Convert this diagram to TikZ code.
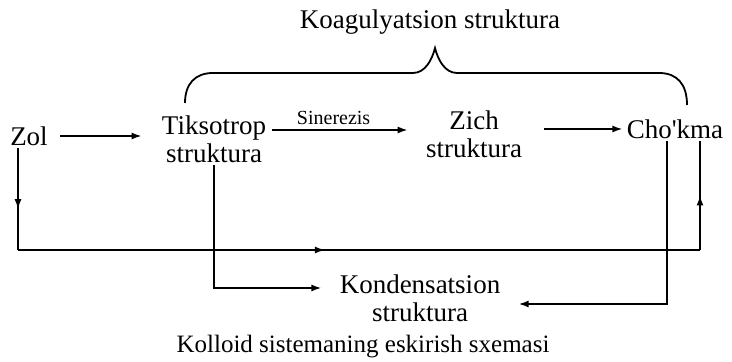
\documentclass[tikz,border=0pt]{standalone}
\usepackage{fontspec}
\setmainfont{Liberation Serif}
\usetikzlibrary{arrows.meta,decorations.markings}
\tikzset{lbl/.style={font=\fontsize{13.5}{14}\selectfont,align=center,inner sep=1pt},
link/.style={-{Latex[length=5pt,width=3.5pt]},line width=.8pt},
midarrow/.style={line width=.8pt,postaction={decorate},decoration={markings,mark=at position #1 with {\arrow{Latex[length=5pt,width=3.5pt]}}}},
brace/.style={line width=.9pt}}

\begin{document}
\begin{tikzpicture}[x=.5pt,y=-.5pt]
\useasboundingbox (0,0) rectangle (732,362);
\node[lbl] (koag) at (430,22) {Koagulyatsion struktura};
\node[lbl] (zol) at (29,136) {Zol};
\node[lbl] (tiks) at (214,139) {Tiksotrop\\struktura};
\node[lbl] (zich) at (474,134) {Zich\\struktura};
\node[lbl] (chok) at (675,129) {Cho\textquotesingle kma};
\node[lbl] (kond) at (420,298) {Kondensatsion\\struktura};
\node[lbl,font=\fontsize{12.5}{14}\selectfont] (title) at (363,347) {Kolloid sistemaning eskirish sxemasi};
% brace over the middle row
\draw[brace] (185,103) .. controls (185,84) and (195,73) .. (213,73) -- (413,73)
.. controls (425,73) and (432,60) .. (435,48) .. controls (438,60) and (445,73) .. (457,73)
-- (659,73) .. controls (677,73) and (687,84) .. (687,105);
% middle row
\draw[link,shorten <=5pt,shorten >=9pt] (zol.east) -- (zol.east -| tiks.west);
\draw[link,shorten <=2pt,shorten >=8pt] ([yshift=4.5pt]tiks.east) -- node[lbl,font=\fontsize{10}{12}\selectfont,above=1pt,pos=.42] (siner) {Sinerezis} ([yshift=4.5pt]tiks.east -| zich.west);
\draw[link,shorten <=10pt,shorten >=1pt] (zich.east |- chok.west) -- (chok.west);
% bottom loop
\coordinate (bl) at (18,250);
\coordinate (br) at (700,250);
\draw[midarrow=.6] ([xshift=-5.5pt]zol.south) -- (bl);
\draw[midarrow=.45] (bl) -- (br);
\draw[midarrow=.5] (br) -- ([xshift=12.5pt]chok.south);
% to kondensatsion
\draw[link,shorten >=8pt] (tiks.south) |- ([yshift=5pt]kond.west);
\draw[link,shorten >=8pt] ([xshift=-4pt]chok.south) |- ([yshift=-3pt]kond.east);
\end{tikzpicture}
\end{document}
